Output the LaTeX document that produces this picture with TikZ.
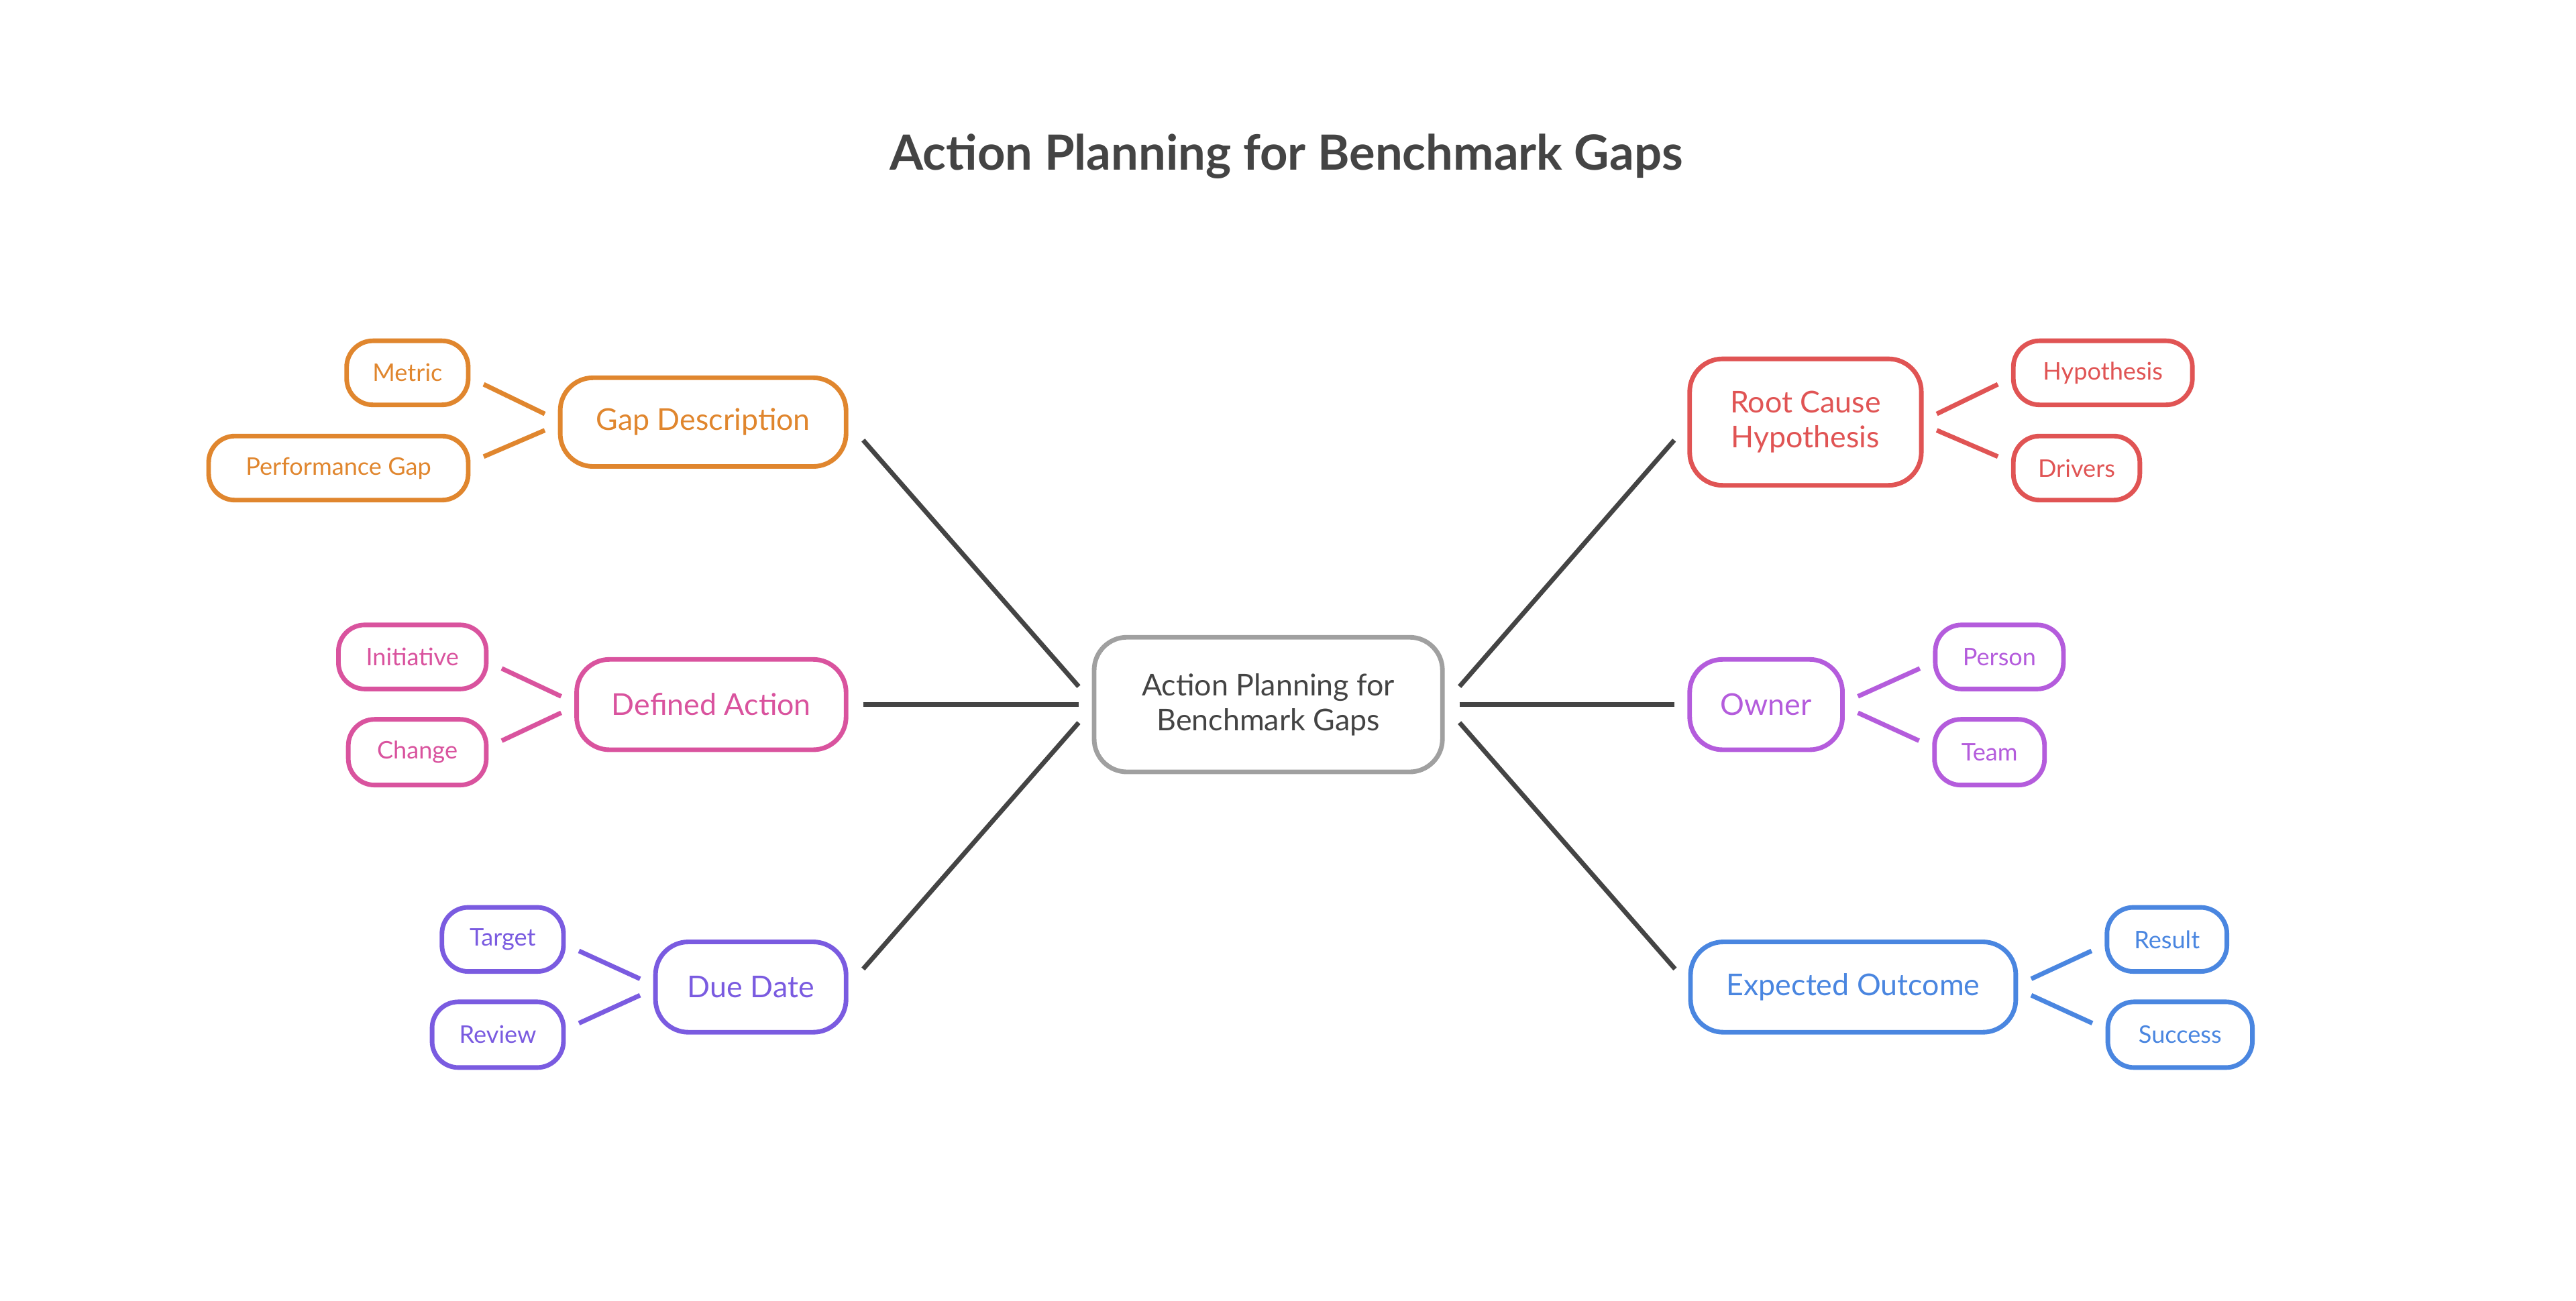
\documentclass[tikz,border=0pt]{standalone}
\usepackage{fontspec}
\setmainfont{Lato}
\definecolor{cor}{HTML}{E0862E}
\definecolor{cpk}{HTML}{D9539E}
\definecolor{cpu}{HTML}{7A5BE0}
\definecolor{cre}{HTML}{E05454}
\definecolor{cvi}{HTML}{B45CDC}
\definecolor{cbl}{HTML}{4A86E0}
\definecolor{cgr}{HTML}{A0A0A0}
\definecolor{ctx}{HTML}{444444}
\begin{document}
\begin{tikzpicture}[x=0.025cm,y=-0.025cm,
  box/.style={draw=#1,text=#1,line width=2pt,rounded corners=0.5cm,align=center,inner sep=0pt},
  sz/.style 2 args={minimum width=#1*0.025cm,minimum height=#2*0.025cm},
  big/.style={font=\fontsize{13}{15}\selectfont},
  small/.style={font=\fontsize{10.5}{12}\selectfont,rounded corners=0.4cm},
  ln/.style={draw=#1,line width=2pt}]
\path[use as bounding box] (0,0) rectangle (1568,792);
\node[text=ctx,font=\bfseries\fontsize{21}{24}\selectfont] (title) at (783,95) {Action Planning for Benchmark Gaps};
\node[box=cgr,text=ctx,big,sz={212}{82}] (c) at (772,429) {Action Planning for\\Benchmark Gaps};
% left
\node[box=cor,big,sz={174}{54}] (gap) at (428,257) {Gap Description};
\node[box=cor,small,sz={74}{39}] (metric) at (248,227) {Metric};
\node[box=cor,small,sz={158}{39}] (perf) at (206,285) {Performance Gap};
\node[box=cpk,big,sz={164}{55}] (act) at (433,429) {Defined Action};
\node[box=cpk,small,sz={90}{39}] (init) at (251,400) {Initiative};
\node[box=cpk,small,sz={84}{40}] (chg) at (254,458) {Change};
\node[box=cpu,big,sz={116}{55}] (due) at (457,601) {Due Date};
\node[box=cpu,small,sz={74}{39}] (tgt) at (306,572) {Target};
\node[box=cpu,small,sz={80}{40}] (rev) at (303,630) {Review};
% right
\node[box=cre,big,sz={141}{77}] (root) at (1099,257) {Root Cause\\Hypothesis};
\node[box=cre,small,sz={109}{39}] (hyp) at (1280,227) {Hypothesis};
\node[box=cre,small,sz={77}{39}] (drv) at (1264,285) {Drivers};
\node[box=cvi,big,sz={93}{55}] (own) at (1075,429) {Owner};
\node[box=cvi,small,sz={78}{39}] (per) at (1217,400) {Person};
\node[box=cvi,small,sz={67}{40}] (team) at (1211,458) {Team};
\node[box=cbl,big,sz={198}{55}] (exp) at (1128,601) {Expected Outcome};
\node[box=cbl,small,sz={73}{39}] (res) at (1319,572) {Result};
\node[box=cbl,small,sz={88}{40}] (suc) at (1327,630) {Success};
% main connectors
\draw[ln=ctx] ([shift={(9,11)}]gap.east) -- ([shift={(-8,-11)}]c.west);
\draw[ln=ctx] ([shift={(9,0)}]act.east) -- ([shift={(-8,0)}]c.west);
\draw[ln=ctx] ([shift={(9,-11)}]due.east) -- ([shift={(-8,11)}]c.west);
\draw[ln=ctx] ([shift={(9,-11)}]c.east) -- ([shift={(-8,11)}]root.west);
\draw[ln=ctx] ([shift={(9,0)}]c.east) -- ([shift={(-8,0)}]own.west);
\draw[ln=ctx] ([shift={(9,11)}]c.east) -- ([shift={(-8,-11)}]exp.west);
% sub connectors
\draw[ln=cor] ([shift={(8,7)}]metric.east) -- ([shift={(-8,-5)}]gap.west);
\draw[ln=cor] ([shift={(8,-7)}]perf.east) -- ([shift={(-8,5)}]gap.west);
\draw[ln=cpk] ([shift={(8,7)}]init.east) -- ([shift={(-8,-5)}]act.west);
\draw[ln=cpk] ([shift={(8,-7)}]chg.east) -- ([shift={(-8,5)}]act.west);
\draw[ln=cpu] ([shift={(8,7)}]tgt.east) -- ([shift={(-8,-5)}]due.west);
\draw[ln=cpu] ([shift={(8,-7)}]rev.east) -- ([shift={(-8,5)}]due.west);
\draw[ln=cre] ([shift={(8,-5)}]root.east) -- ([shift={(-8,7)}]hyp.west);
\draw[ln=cre] ([shift={(8,5)}]root.east) -- ([shift={(-8,-7)}]drv.west);
\draw[ln=cvi] ([shift={(8,-5)}]own.east) -- ([shift={(-8,7)}]per.west);
\draw[ln=cvi] ([shift={(8,5)}]own.east) -- ([shift={(-8,-7)}]team.west);
\draw[ln=cbl] ([shift={(8,-5)}]exp.east) -- ([shift={(-8,7)}]res.west);
\draw[ln=cbl] ([shift={(8,5)}]exp.east) -- ([shift={(-8,-7)}]suc.west);
\end{tikzpicture}
\end{document}
